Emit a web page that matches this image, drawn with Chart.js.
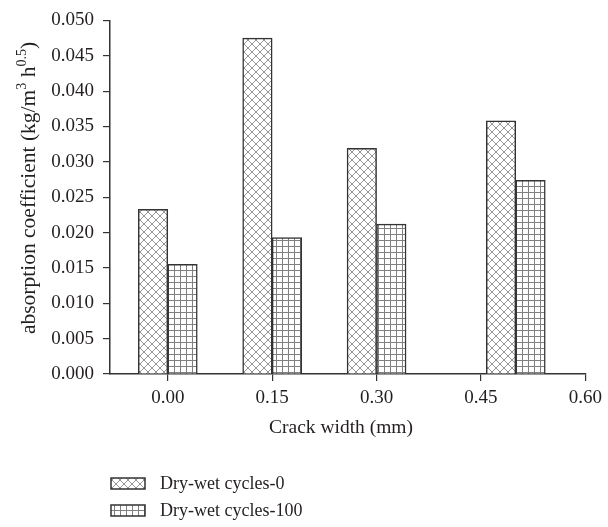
<!DOCTYPE html>
<html>
<head>
<meta charset="utf-8">
<script src="https://cdn.jsdelivr.net/npm/chart.js@4/dist/chart.umd.min.js"></script>
<style>
  html, body { margin: 0; padding: 0; background: #fff; }
  #wrap { width: 608px; height: 527px; }
</style>
</head>
<body>
<div id="wrap"><canvas id="c" width="608" height="527"></canvas></div>
<script>
// ---- data ----
const crackWidths = [0.00, 0.15, 0.30, 0.50];
const cycles0 = [0.0233, 0.0475, 0.0319, 0.0358];
const cycles100 = [0.0155, 0.0193, 0.0212, 0.0274];
const seriesLabels = ['Dry-wet cycles-0', 'Dry-wet cycles-100'];
const xTickValues = [0.00, 0.15, 0.30, 0.45, 0.60];
const xTitle = 'Crack width (mm)';
const yTitleParts = [['absorption coefficient (kg/m', false], ['3', true], [' h', false], ['0.5', true], [')', false]];

const FONT = '"Liberation Serif", "DejaVu Serif", serif';
const TXT = '#231f20';

function makeCross() {
  const c = document.createElement('canvas');
  c.width = 8; c.height = 8;
  const g = c.getContext('2d');
  g.fillStyle = '#fff'; g.fillRect(0, 0, 8, 8);
  g.strokeStyle = '#959595'; g.lineWidth = 1;
  g.beginPath();
  g.moveTo(-1, -1); g.lineTo(9, 9);
  g.moveTo(-1, 9); g.lineTo(9, -1);
  g.stroke();
  return g.createPattern(c, 'repeat');
}
function makeGrid() {
  const c = document.createElement('canvas');
  c.width = 6; c.height = 6;
  const g = c.getContext('2d');
  g.fillStyle = '#fff'; g.fillRect(0, 0, 6, 6);
  g.fillStyle = '#808080';
  g.fillRect(0, 0, 1, 6);
  g.fillRect(0, 0, 6, 1);
  return g.createPattern(c, 'repeat');
}
const crossPat = makeCross();
const gridPat = makeGrid();

const deco = {
  id: 'deco',
  afterDraw(chart) {
    const ctx = chart.ctx;
    ctx.save();
    ctx.fillStyle = TXT;
    ctx.font = '19.5px ' + FONT;
    ctx.textAlign = 'center';
    ctx.textBaseline = 'middle';
    ctx.fillText(xTitle, 341, 428);

    // y title with superscripts
    const mainF = '21.5px ' + FONT, supF = '14px ' + FONT;
    let total = 0;
    yTitleParts.forEach(([t, sup]) => { ctx.font = sup ? supF : mainF; total += ctx.measureText(t).width; });
    ctx.translate(28, 188);
    ctx.rotate(-Math.PI / 2);
    ctx.textAlign = 'left';
    ctx.textBaseline = 'alphabetic';
    let x = -total / 2;
    yTitleParts.forEach(([t, sup]) => {
      ctx.font = sup ? supF : mainF;
      ctx.fillText(t, x, sup ? -2 : 7);
      x += ctx.measureText(t).width;
    });
    ctx.restore();

    // legend
    ctx.save();
    chart.data.datasets.forEach((ds, i) => {
      const y = 478 + i * 27;
      ctx.fillStyle = ds.backgroundColor;
      ctx.fillRect(111, y, 34, 11);
      ctx.strokeStyle = '#333'; ctx.lineWidth = 1.5;
      ctx.strokeRect(111, y, 34, 11);
      ctx.fillStyle = TXT;
      ctx.font = '18px ' + FONT;
      ctx.textAlign = 'left'; ctx.textBaseline = 'middle';
      ctx.fillText(ds.label, 160, y + 6);
    });
    ctx.restore();
  }
};

new Chart(document.getElementById('c'), {
  type: 'bar',
  data: {
    datasets: [
      { label: seriesLabels[0], data: crackWidths.map((x, i) => ({ x, y: cycles0[i] })),
        backgroundColor: crossPat, borderColor: '#333', borderWidth: 1.5 },
      { label: seriesLabels[1], data: crackWidths.map((x, i) => ({ x, y: cycles100[i] })),
        backgroundColor: gridPat, borderColor: '#333', borderWidth: 1.5 }
    ]
  },
  options: {
    responsive: false,
    animation: false,
    layout: { padding: { left: 0, right: 19, top: 16, bottom: 0 } },
    barThickness: 29.5,
    plugins: { legend: { display: false }, tooltip: { enabled: false } },
    scales: {
      x: {
        type: 'linear', offset: false,
        min: -0.083, max: 0.60,
        afterBuildTicks: s => { s.ticks = xTickValues.map(v => ({ value: v })); },
        afterFit: s => { s.height = 153; },
        ticks: { callback: v => Number(v).toFixed(2), color: TXT, font: { family: FONT, size: 19 }, padding: 6, maxRotation: 0, autoSkip: false },
        grid: { offset: false, drawOnChartArea: false, drawTicks: true, tickLength: 7, color: '#333', lineWidth: 1.2 },
        border: { display: true, color: '#333', width: 1.5 }
      },
      y: {
        min: 0, max: 0.05,
        afterFit: s => { s.width = 110; },
        ticks: { stepSize: 0.005, callback: v => Number(v).toFixed(3), color: TXT, font: { family: FONT, size: 19 }, padding: 9 },
        grid: { drawOnChartArea: false, drawTicks: true, tickLength: 7, color: '#333', lineWidth: 1.2 },
        border: { display: true, color: '#333', width: 1.5 }
      }
    }
  },
  plugins: [deco]
});
</script>
</body>
</html>
